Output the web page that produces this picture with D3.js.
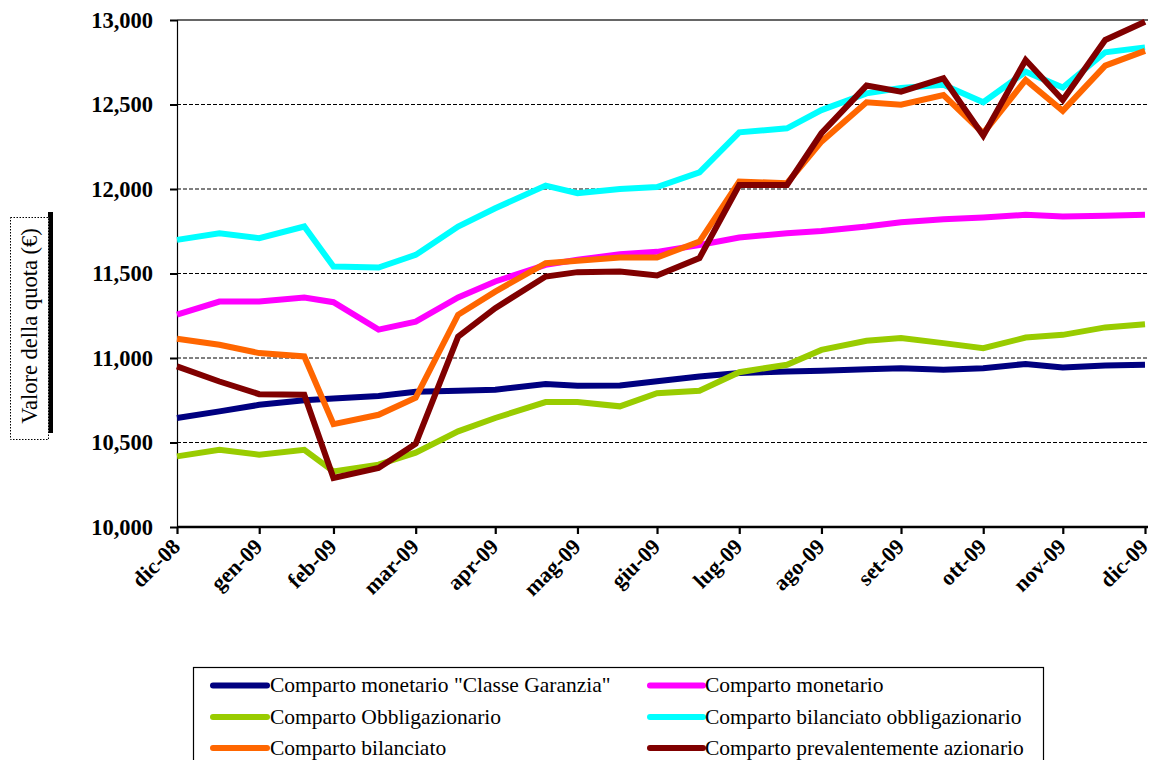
<!DOCTYPE html>
<html>
<head>
<meta charset="utf-8">
<script src="https://cdn.jsdelivr.net/npm/d3@7/dist/d3.min.js"></script>
<style>
  html, body { margin: 0; padding: 0; background: #fff; }
  svg { display: block; }
  text { font-family: "Liberation Serif", "Times New Roman", serif; fill: #000; }
</style>
</head>
<body>
<svg id="chart" width="1153" height="760"></svg>
<script>
// Valuation dates (semi-monthly NAV readings)
const dates = [
  "2008-12-31","2009-01-16","2009-01-31","2009-02-17","2009-02-28","2009-03-17",
  "2009-03-31","2009-04-16","2009-04-30","2009-05-19","2009-05-31","2009-06-16",
  "2009-06-30","2009-07-16","2009-07-31","2009-08-18","2009-08-31","2009-09-17",
  "2009-09-30","2009-10-16","2009-10-31","2009-11-16","2009-11-30","2009-12-16",
  "2009-12-31"
];

// Month-end ticks and their labels
const tickDates = [
  "2008-12-31","2009-01-31","2009-02-28","2009-03-31","2009-04-30","2009-05-31",
  "2009-06-30","2009-07-31","2009-08-31","2009-09-30","2009-10-31","2009-11-30",
  "2009-12-31"
];
const tickLabels = ["dic-08","gen-09","feb-09","mar-09","apr-09","mag-09","giu-09",
  "lug-09","ago-09","set-09","ott-09","nov-09","dic-09"];

const yTicks = [10000, 10500, 11000, 11500, 12000, 12500, 13000];

// Quota values per fund compartment
const monetarioGaranzia = [10645,10684,10723,10750,10760,10775,10800,10806,10812,10846,10836,10838,10862,10891,10911,10920,10924,10934,10940,10930,10940,10965,10944,10956,10960];
const monetario = [11256,11334,11334,11358,11330,11168,11215,11358,11453,11551,11581,11614,11628,11669,11713,11738,11752,11778,11803,11821,11831,11847,11837,11841,11847];
const obbligazionario = [10418,10457,10428,10457,10329,10369,10440,10566,10645,10739,10739,10714,10792,10806,10916,10960,11048,11102,11118,11088,11058,11121,11137,11181,11200];
const bilanciatoObbl = [11699,11738,11709,11778,11541,11535,11610,11778,11886,12020,11975,12000,12012,12099,12335,12359,12467,12566,12598,12617,12513,12694,12600,12809,12838];
const bilanciato = [11114,11078,11029,11009,10609,10664,10765,11256,11393,11561,11575,11595,11595,11689,12044,12034,12280,12513,12499,12556,12330,12645,12462,12730,12817];
const azionario = [10950,10861,10786,10782,10290,10349,10492,11127,11295,11482,11508,11512,11488,11591,12024,12024,12330,12612,12576,12655,12316,12763,12527,12882,12990];

const seriesNames = [
  'Comparto monetario "Classe Garanzia"',
  "Comparto monetario",
  "Comparto Obbligazionario",
  "Comparto bilanciato obbligazionario",
  "Comparto bilanciato",
  "Comparto prevalentemente azionario"
];
const seriesColors = ["#000080","#ff00ff","#99cc00","#00ffff","#ff6600","#800000"];
const seriesValues = [monetarioGaranzia, monetario, obbligazionario, bilanciatoObbl, bilanciato, azionario];

const parse = d3.utcParse("%Y-%m-%d");
const svg = d3.select("#chart");

const plotLeft = 177, plotRight = 1145, plotTop = 20, plotBottom = 527;

const x = d3.scaleUtc()
  .domain([parse(tickDates[0]), parse(tickDates[tickDates.length - 1])])
  .range([plotLeft, plotRight]);
const y = d3.scaleLinear().domain([10000, 13000]).range([plotBottom, plotTop]);

// Horizontal gridlines (dashed), top one solid
svg.append("g").selectAll("line")
  .data(yTicks.filter(v => v > 10000))
  .join("line")
  .attr("x1", plotLeft).attr("x2", plotRight + 3)
  .attr("y1", d => y(d)).attr("y2", d => y(d))
  .attr("stroke", d => d === 13000 ? "#333" : "#000")
  .attr("stroke-width", d => d === 13000 ? 1.6 : 1)
  .attr("stroke-dasharray", d => d === 13000 ? null : "4,2");

// Y axis
const yAxis = svg.append("g")
  .attr("transform", `translate(${plotLeft},0)`)
  .call(d3.axisLeft(y).tickValues(yTicks).tickSize(7).tickPadding(17)
    .tickFormat(d3.format(",")));
yAxis.select(".domain").attr("stroke", "#000").attr("stroke-width", 1.2);
yAxis.selectAll(".tick line").attr("stroke", "#000").attr("stroke-width", 2);
yAxis.selectAll(".tick text")
  .style("font-family", '"Liberation Serif", serif')
  .style("font-size", "22.5px").style("font-weight", "bold")
  .attr("dy", "0.33em");

// X axis
const xAxis = svg.append("g")
  .attr("transform", `translate(0,${plotBottom})`)
  .call(d3.axisBottom(x)
    .tickValues(tickDates.map(parse))
    .tickSize(7)
    .tickFormat((d, i) => tickLabels[i]));
xAxis.select(".domain").attr("stroke", "#000").attr("stroke-width", 2.4)
  .attr("d", `M${plotLeft},0H${plotRight + 3}`);
xAxis.selectAll(".tick line").attr("stroke", "#000").attr("stroke-width", 2.2);
xAxis.selectAll(".tick text")
  .style("font-family", '"Liberation Serif", serif')
  .style("font-size", "22px").style("font-weight", "bold")
  .attr("text-anchor", "end")
  .attr("dy", null).attr("y", 0)
  .attr("transform", "translate(4,21) rotate(-45)");

// Series lines
const line = d3.line()
  .x((d, i) => x(parse(dates[i])))
  .y(d => y(d));

svg.append("g").selectAll("path")
  .data(seriesValues)
  .join("path")
  .attr("d", d => line(d))
  .attr("fill", "none")
  .attr("stroke", (d, i) => seriesColors[i])
  .attr("stroke-width", 6)
  .attr("stroke-linejoin", "miter")
  .attr("stroke-linecap", "butt");

// Y axis title in a dotted box with a shadow
const titleG = svg.append("g");
titleG.append("rect")
  .attr("x", 48).attr("y", 212).attr("width", 5).attr("height", 221)
  .attr("fill", "#000");
titleG.append("rect")
  .attr("x", 10.5).attr("y", 217.5).attr("width", 38).attr("height", 222)
  .attr("fill", "#fff").attr("stroke", "#000").attr("stroke-width", 1)
  .attr("stroke-dasharray", "1.5,1.5");
titleG.append("text")
  .attr("transform", "translate(37,326) rotate(-90)")
  .attr("text-anchor", "middle")
  .style("font-size", "22.5px")
  .text("Valore della quota (€)");

// Legend
const legend = svg.append("g");
legend.append("rect")
  .attr("x", 193.5).attr("y", 667.5).attr("width", 850).attr("height", 130)
  .attr("fill", "#fff").attr("stroke", "#000").attr("stroke-width", 1.2);

const colX = [[213, 267, 270], [650, 703, 705]];
const rowY = [685.5, 717, 748];
seriesNames.forEach((name, i) => {
  const c = colX[i % 2], r = rowY[Math.floor(i / 2)];
  legend.append("line")
    .attr("x1", c[0]).attr("x2", c[1]).attr("y1", r).attr("y2", r)
    .attr("stroke", seriesColors[i]).attr("stroke-width", 6)
    .attr("stroke-linecap", "round");
  legend.append("text")
    .attr("x", c[2]).attr("y", r).attr("dy", "0.31em")
    .style("font-size", "21.5px")
    .text(name);
});
</script>
</body>
</html>
